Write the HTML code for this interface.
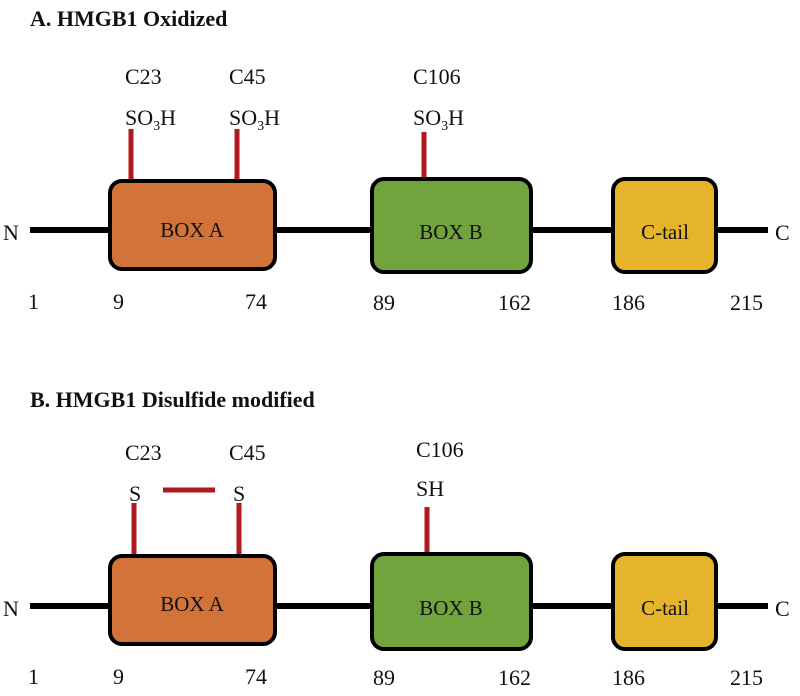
<!DOCTYPE html>
<html><head><meta charset="utf-8"><style>
html,body{margin:0;padding:0;background:#fff}
svg{display:block}
text{font-family:"Liberation Serif",serif;fill:#111}
</style></head><body>
<svg width="800" height="696" viewBox="0 0 800 696" xmlns="http://www.w3.org/2000/svg">
<g id="A">
<text x="30" y="26" font-size="22" font-weight="bold">A. HMGB1 Oxidized</text>
<text x="125" y="84" font-size="22">C23</text>
<text x="229" y="84" font-size="22">C45</text>
<text x="413" y="84" font-size="22">C106</text>
<text x="125" y="125" font-size="22">SO<tspan font-size="14" dy="5">3</tspan><tspan dy="-5">H</tspan></text>
<text x="229" y="125" font-size="22">SO<tspan font-size="14" dy="5">3</tspan><tspan dy="-5">H</tspan></text>
<text x="413" y="125" font-size="22">SO<tspan font-size="14" dy="5">3</tspan><tspan dy="-5">H</tspan></text>
<g stroke="#b01a1f" stroke-width="5"><line x1="131" y1="129" x2="131" y2="180"/><line x1="237" y1="129" x2="237" y2="180"/><line x1="424" y1="132" x2="424" y2="178"/></g>
<line x1="30" y1="230" x2="768" y2="230" stroke="#000" stroke-width="6"/>
<rect x="110" y="181" width="165" height="88" rx="12" fill="#d2743a" stroke="#000" stroke-width="4"/>
<rect x="372" y="179" width="159" height="93" rx="12" fill="#72a43e" stroke="#000" stroke-width="4"/>
<rect x="613" y="179" width="103" height="93" rx="12" fill="#e6b42a" stroke="#000" stroke-width="4"/>
<text x="192" y="237" font-size="21" text-anchor="middle">BOX A</text>
<text x="451" y="239" font-size="21" text-anchor="middle">BOX B</text>
<text x="665" y="239" font-size="21" text-anchor="middle">C-tail</text>
<text x="3" y="240" font-size="22">N</text>
<text x="775" y="240" font-size="22">C</text>
<text x="28" y="309" font-size="22">1</text>
<text x="113" y="309" font-size="22">9</text>
<text x="245" y="309" font-size="22">74</text>
<text x="373" y="310" font-size="22">89</text>
<text x="498" y="310" font-size="22">162</text>
<text x="612" y="310" font-size="22">186</text>
<text x="730" y="310" font-size="22">215</text>
</g>
<g id="B">
<text x="30" y="407" font-size="22" font-weight="bold">B. HMGB1 Disulfide modified</text>
<text x="125" y="460" font-size="22">C23</text>
<text x="229" y="460" font-size="22">C45</text>
<text x="416" y="457" font-size="22">C106</text>
<text x="129" y="501" font-size="22">S</text>
<text x="233" y="501" font-size="22">S</text>
<text x="416" y="496" font-size="22">SH</text>
<g stroke="#b01a1f" stroke-width="5"><line x1="163" y1="490" x2="215" y2="490"/><line x1="134" y1="503" x2="134" y2="555"/><line x1="239" y1="503" x2="239" y2="555"/><line x1="427" y1="507" x2="427" y2="553"/></g>
<line x1="30" y1="606" x2="768" y2="606" stroke="#000" stroke-width="6"/>
<rect x="110" y="556" width="165" height="88" rx="12" fill="#d2743a" stroke="#000" stroke-width="4"/>
<rect x="372" y="554" width="159" height="95" rx="12" fill="#72a43e" stroke="#000" stroke-width="4"/>
<rect x="613" y="554" width="103" height="95" rx="12" fill="#e6b42a" stroke="#000" stroke-width="4"/>
<text x="192" y="611" font-size="21" text-anchor="middle">BOX A</text>
<text x="451" y="615" font-size="21" text-anchor="middle">BOX B</text>
<text x="665" y="615" font-size="21" text-anchor="middle">C-tail</text>
<text x="3" y="616" font-size="22">N</text>
<text x="775" y="616" font-size="22">C</text>
<text x="28" y="684" font-size="22">1</text>
<text x="113" y="684" font-size="22">9</text>
<text x="245" y="684" font-size="22">74</text>
<text x="373" y="685" font-size="22">89</text>
<text x="498" y="685" font-size="22">162</text>
<text x="612" y="685" font-size="22">186</text>
<text x="730" y="685" font-size="22">215</text>
</g>
</svg>
</body></html>
